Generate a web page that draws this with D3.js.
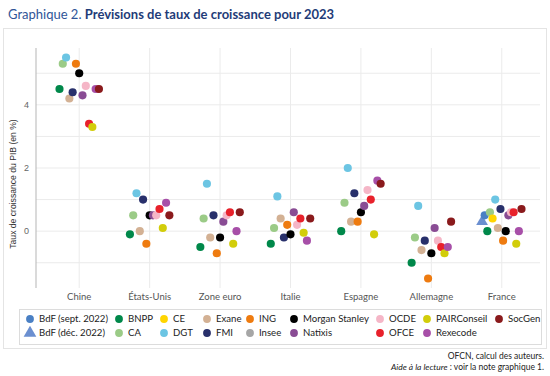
<!DOCTYPE html>
<html>
<head>
<meta charset="utf-8">
<script src="https://cdn.jsdelivr.net/npm/d3@7"></script>
<style>
  body { margin: 0; background: #fff; }
  text { font-family: Lato, "Open Sans", sans-serif; }
</style>
</head>
<body>
<div id="vis"></div>
<script>
// Data
const countries = ["Chine", "États-Unis", "Zone euro", "Italie", "Espagne", "Allemagne", "France"];
const institutions = ["BdF (déc. 2022)", "BdF (sept. 2022)", "BNPP", "CA", "CE", "DGT", "Exane", "FMI", "ING", "Insee",
    "Morgan Stanley", "Natixis", "OCDE", "OFCE", "PAIRConseil", "Rexecode", "SocGen"];
const colors = ["#6b8fd0", "#4a80c4", "#00884a", "#9bcb87", "#ffd500", "#6cc5e3", "#d3b194", "#28306b", "#ee7b10", "#a6a6a6",
    "#000000", "#894c94", "#f5b6c7", "#e8212b", "#d2cd0a", "#a74fa8", "#8a1a1c"];
// forecasts per institution, in country order (null = no forecast)
const bdfDec   = [null, null, null, null, null, null, 0.3];
const bdfSept  = [null, null, null, null, null, null, 0.5];
const bnpp     = [4.5, -0.1, -0.5, -0.4, 0.0, -1.0, 0.0];
const ca       = [5.3, 0.5, 0.4, 0.1, 0.9, -0.2, 0.6];
const ce       = [null, null, null, null, null, null, 0.4];
const dgt      = [5.5, 1.2, 1.5, 1.1, 2.0, 0.8, 1.0];
const exane    = [4.2, 0.0, -0.2, 0.4, 0.3, -0.6, 0.1];
const fmi      = [4.4, 1.0, 0.5, -0.2, 1.2, -0.3, 0.7];
const ing      = [5.3, -0.4, -0.7, 0.2, 0.3, -1.5, -0.3];
const insee    = [null, null, null, null, null, null, null];
const ms       = [5.0, 0.5, -0.2, -0.1, 0.6, -0.7, 0.0];
const natixis  = [4.3, 0.5, 0.3, 0.6, 0.8, 0.1, 0.5];
const ocde     = [4.6, 0.5, 0.5, 0.2, 1.3, -0.3, 0.6];
const ofce     = [3.4, 0.7, 0.6, 0.4, 1.0, -0.5, 0.6];
const pair     = [3.3, 0.1, -0.4, -0.05, -0.1, -0.7, -0.4];
const rexecode = [4.5, 0.9, 0.0, -0.3, 1.6, -0.5, 0.0];
const socgen   = [4.5, 0.5, 0.6, 0.4, 1.5, 0.3, 0.7];
const series = [bdfDec, bdfSept, bnpp, ca, ce, dgt, exane, fmi, ing, insee, ms, natixis, ocde, ofce, pair, rexecode, socgen];
const yTicks = [0, 2, 4];
// legend order: two rows, column by column
const legendOrder = ["BdF (sept. 2022)", "BdF (déc. 2022)", "BNPP", "CA", "CE", "DGT", "Exane", "FMI", "ING", "Insee",
    "Morgan Stanley", "Natixis", "OCDE", "OFCE", "PAIRConseil", "Rexecode", "SocGen"];

const width = 550, height = 376;
const svg = d3.select("#vis").append("svg")
    .attr("width", width)
    .attr("height", height);

const color = d3.scaleOrdinal().domain(institutions).range(colors);

// Title
const title = svg.append("text").attr("x", 8).attr("y", 19).style("font-size", "13px");
title.append("tspan").attr("fill", "#2f5597").text("Graphique 2. ");
title.append("tspan").attr("fill", "#1f3c78").style("font-weight", "bold").text("Prévisions de taux de croissance pour 2023");

// frame
svg.append("rect")
    .attr("x", 3.5).attr("y", 28.5).attr("width", 543).attr("height", 320)
    .attr("fill", "none").attr("stroke", "#e4e4e4");

// Scales
const x = d3.scaleBand().domain(countries).range([44, 537]);
const y = d3.scaleLinear().domain([-1.8, 5.8]).range([288, 48]);

// gridlines
const g = svg.append("g");
g.selectAll("line.h")
    .data(d3.range(-1, 6))
    .enter().append("line")
    .attr("x1", 36).attr("x2", 540)
    .attr("y1", d => y(d)).attr("y2", d => y(d))
    .attr("stroke", "#ebebeb");
g.selectAll("line.v")
    .data(countries)
    .enter().append("line")
    .attr("x1", d => x(d) + x.bandwidth() / 2).attr("x2", d => x(d) + x.bandwidth() / 2)
    .attr("y1", 48).attr("y2", 288)
    .attr("stroke", "#ebebeb");

// y axis
g.append("line").attr("x1", 36).attr("x2", 36).attr("y1", 48).attr("y2", 288).attr("stroke", "#b5b5b5");
g.selectAll("text.ytick")
    .data(yTicks)
    .enter().append("text")
    .attr("x", 29).attr("y", d => y(d)).attr("dy", "0.35em")
    .attr("text-anchor", "end")
    .attr("fill", "#666").style("font-family", "'Liberation Sans', Arial, sans-serif").style("font-size", "9px")
    .text(d => d);
g.append("text")
    .attr("transform", "translate(16,184)rotate(-90)")
    .attr("text-anchor", "middle")
    .attr("fill", "#333").style("font-family", "'Liberation Sans', Arial, sans-serif").style("font-size", "8.6px")
    .text("Taux de croissance du PIB (en %)");

// x labels
g.selectAll("text.xtick")
    .data(countries)
    .enter().append("text")
    .attr("x", d => x(d) + x.bandwidth() / 2).attr("y", 300)
    .attr("text-anchor", "middle")
    .attr("fill", "#555").style("font-size", "9.5px")
    .text(d => d);

// points, dodged within each country
const points = [];
countries.forEach((c, ci) => {
    const present = institutions.filter((inst, ii) => series[ii][ci] !== null);
    const dodge = d3.scalePoint().domain(present).range([-0.28 * x.step(), 0.28 * x.step()]);
    present.forEach(inst => {
        const ii = institutions.indexOf(inst);
        points.push({ country: c, inst: inst, value: series[ii][ci], dx: dodge(inst) });
    });
});

const dots = svg.append("g");
dots.selectAll("path")
    .data(points)
    .enter().append("path")
    .attr("transform", d => "translate(" + (x(d.country) + x.bandwidth() / 2 + d.dx) + "," + y(d.value) + ")")
    .attr("d", d => d3.symbol()
        .type(d.inst === "BdF (déc. 2022)" ? d3.symbolTriangle : d3.symbolCircle)
        .size(d.inst === "BdF (déc. 2022)" ? 60 : 52)())
    .attr("fill", d => color(d.inst));

// Legend
const legend = svg.append("g");
legend.append("rect")
    .attr("x", 19.5).attr("y", 309.5).attr("width", 522).attr("height", 35)
    .attr("fill", "none").attr("stroke", "#dcdcdc");
const colX = [30, 119, 164, 207, 250, 294, 380, 427, 499];
const rowY = [319, 333];
const item = legend.selectAll("g.item")
    .data(legendOrder)
    .enter().append("g")
    .attr("transform", (d, i) => "translate(" + colX[Math.floor(i / 2)] + "," + rowY[i % 2] + ")");
item.append("path")
    .attr("d", d => d3.symbol()
        .type(d === "BdF (déc. 2022)" ? d3.symbolTriangle : d3.symbolCircle)
        .size(d === "BdF (déc. 2022)" ? 70 : 48)())
    .attr("fill", d => color(d));
item.append("text")
    .attr("x", 9).attr("dy", "0.35em")
    .attr("fill", "#222").style("font-size", "9.6px")
    .text(d => d);

// Source
const src = svg.append("g").style("font-size", "8.5px").attr("fill", "#222");
src.append("text").attr("x", 544).attr("y", 359).attr("text-anchor", "end")
    .text("OFCN, calcul des auteurs.");
const note = src.append("text").attr("x", 544).attr("y", 370).attr("text-anchor", "end");
note.append("tspan").style("font-style", "italic").text("Aide à la lecture");
note.append("tspan").text(" : voir la note graphique 1.");
</script>
</body>
</html>
